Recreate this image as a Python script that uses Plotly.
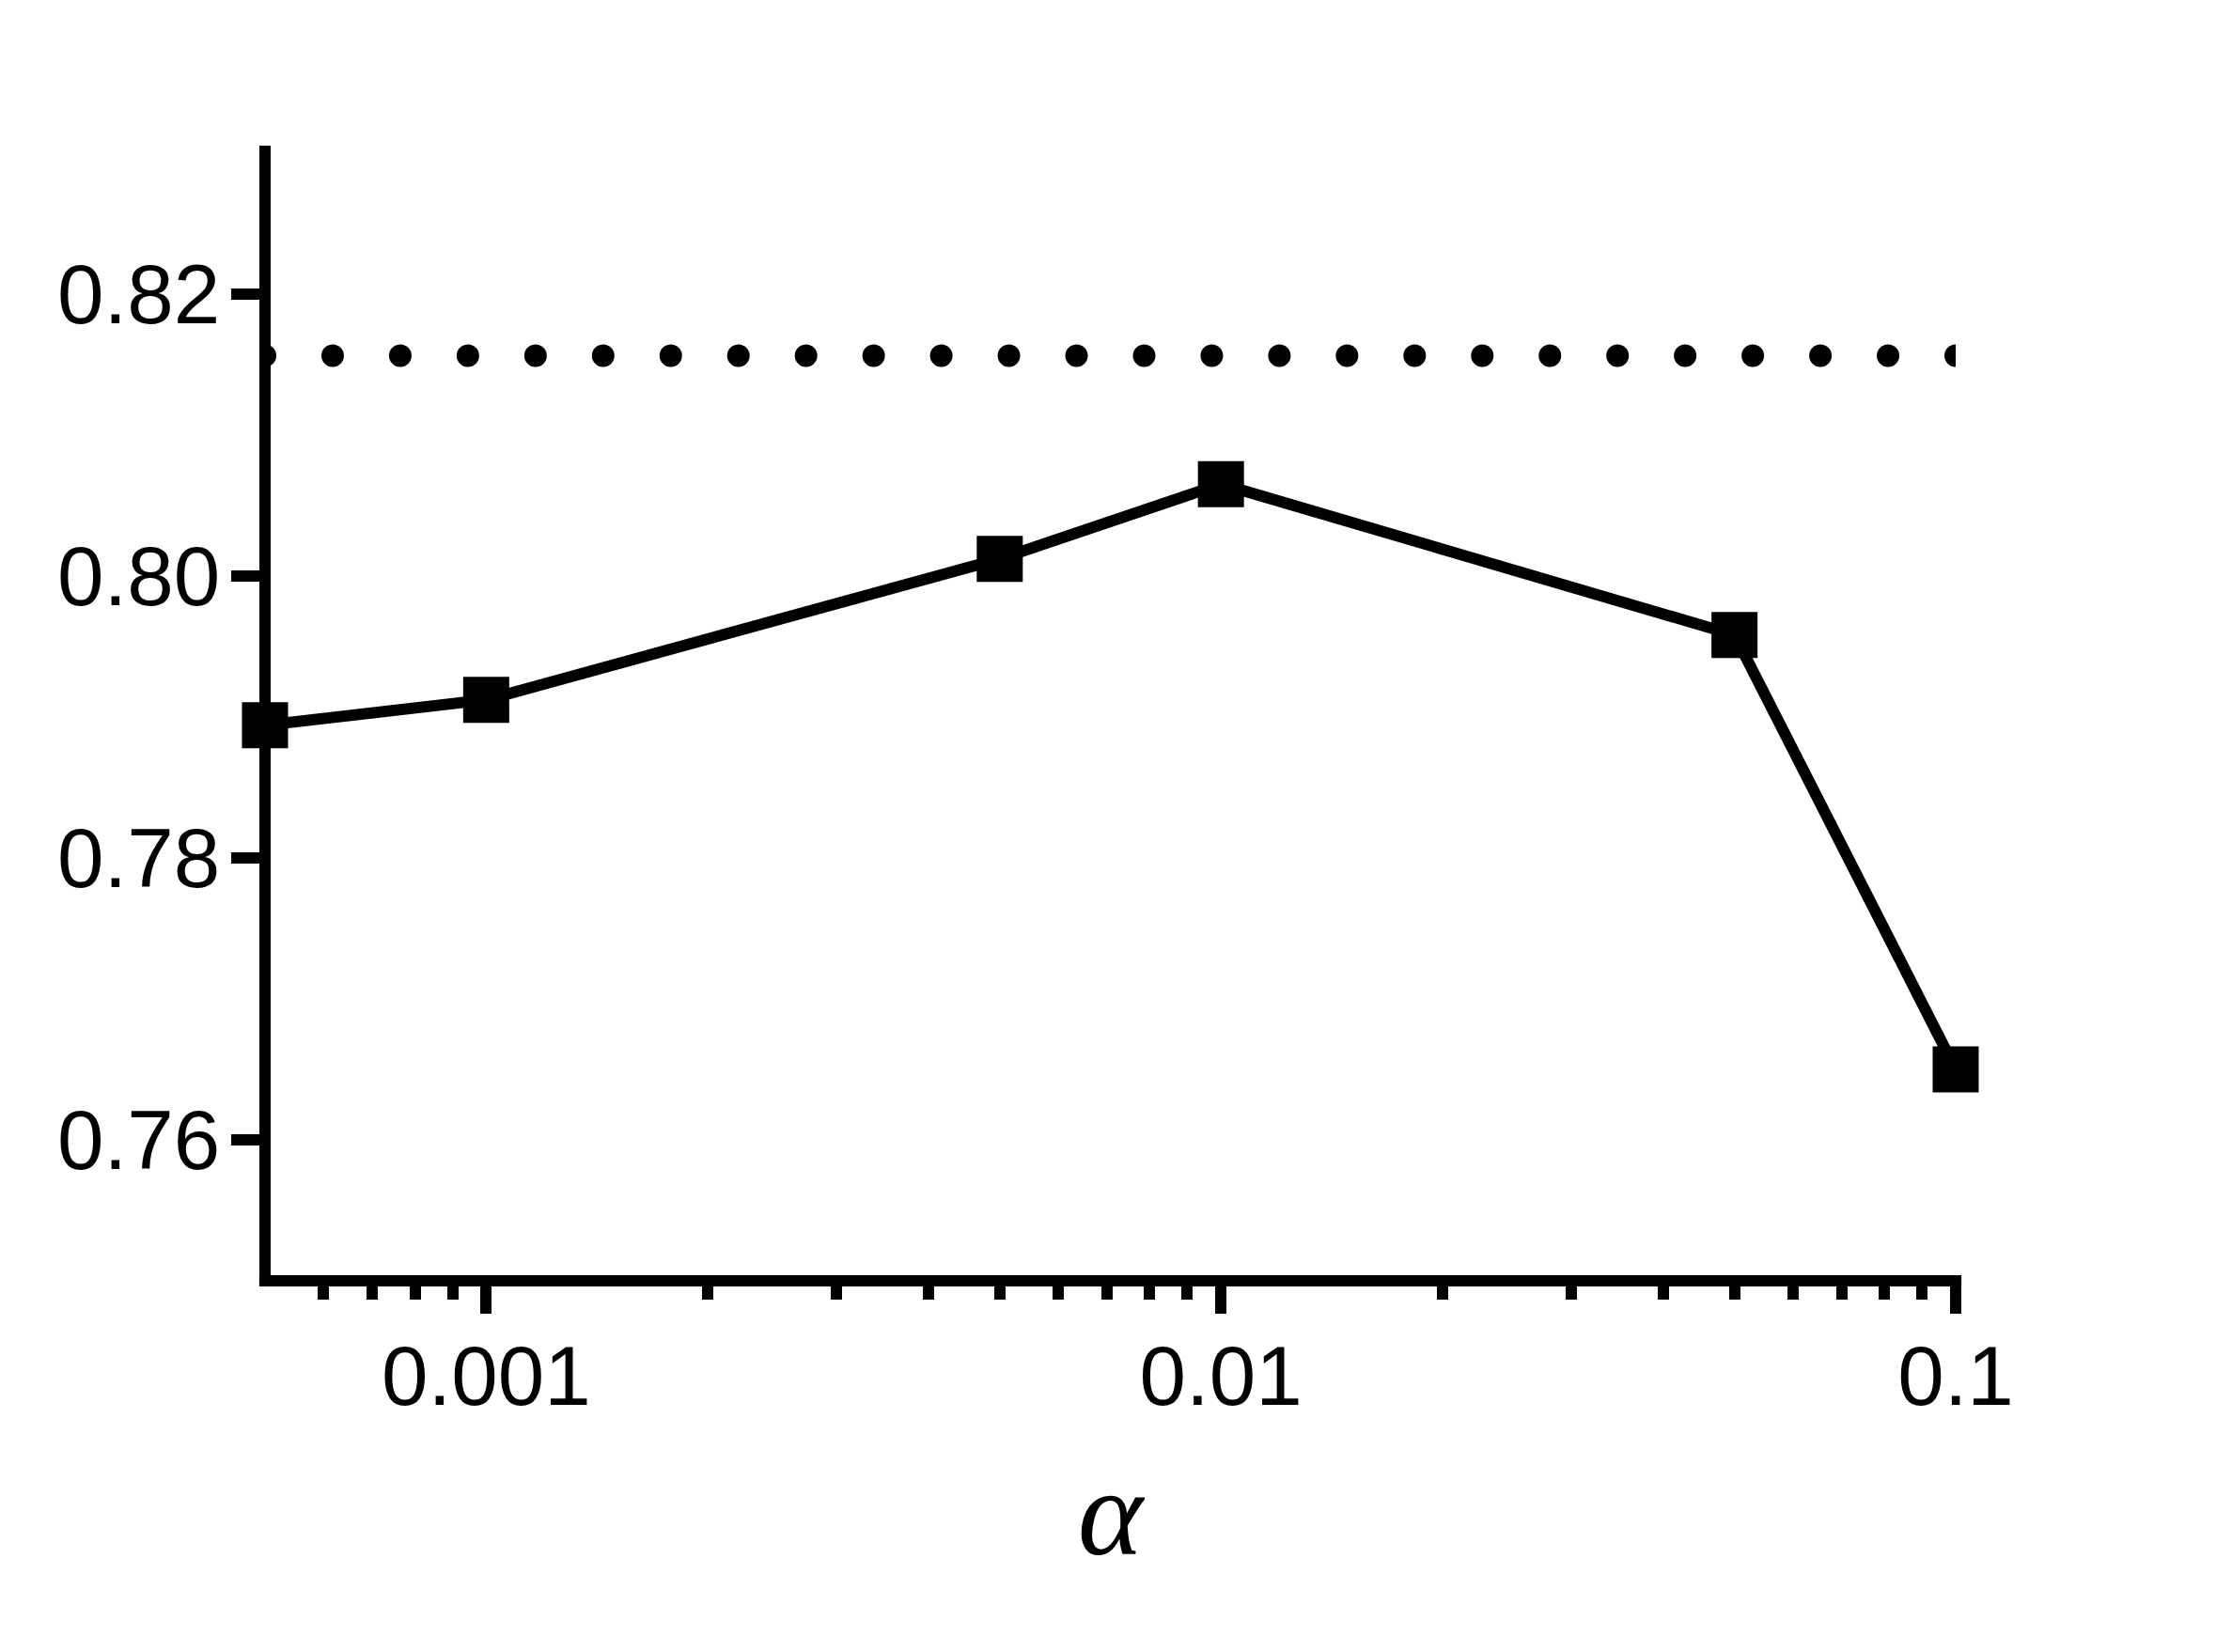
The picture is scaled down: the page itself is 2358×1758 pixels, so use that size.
import numpy as np
import plotly.graph_objects as go

# ---- data ----
alpha = [0.0005, 0.001, 0.005, 0.01, 0.05, 0.1]
score = [0.7894, 0.7912, 0.8012, 0.8065, 0.7958, 0.7650]
baseline = 0.8156

x_major_vals = [0.001, 0.01, 0.1]
x_major_text = ["0.001", "0.01", "0.1"]
x_minor_vals = [0.0006, 0.0007, 0.0008, 0.0009,
                0.002, 0.003, 0.004, 0.005, 0.006, 0.007, 0.008, 0.009,
                0.02, 0.03, 0.04, 0.05, 0.06, 0.07, 0.08, 0.09]
y_tick_vals = [0.76, 0.78, 0.80, 0.82]
x_range = [0.0005, 0.1]
y_range = [0.75, 0.8305]

# dotted reference line rendered as evenly spaced round dots (log axis)
n_dots = 26
dot_x = np.logspace(np.log10(x_range[0]), np.log10(x_range[1]), n_dots)
dot_y = [baseline] * n_dots

eps = 1e-6
fig = go.Figure()
fig.add_trace(go.Scatter(
    x=dot_x, y=dot_y, mode="markers",
    marker=dict(symbol="circle", size=24, color="black"),
    cliponaxis=True, showlegend=False, hoverinfo="skip"))
fig.add_trace(go.Scatter(
    x=alpha, y=score, mode="lines+markers",
    line=dict(color="black", width=12),
    marker=dict(symbol="square", size=49, color="black"),
    cliponaxis=False, showlegend=False))

font = dict(family="Liberation Sans, Arial, sans-serif", size=89, color="black")

# axis lines centred on the plot edges
axis_line = dict(color="black", width=12)
fig.add_shape(type="line", xref="x domain", yref="y domain",
              x0=-0.0034, x1=1.0034, y0=0, y1=0, line=axis_line, layer="above")
fig.add_shape(type="line", xref="x domain", yref="y domain",
              x0=0, x1=0, y0=-0.005, y1=1, line=axis_line, layer="above")

fig.update_layout(
    width=2350, height=1750,
    margin=dict(l=274, r=277, t=147, b=395, autoexpand=False),
    paper_bgcolor="white", plot_bgcolor="white",
    font=font,
    xaxis=dict(
        type="log",
        range=[np.log10(x_range[0]) - eps, np.log10(x_range[1]) + eps],
        showline=False, showgrid=False, zeroline=False,
        ticks="outside", ticklen=34, tickwidth=12, tickcolor="black",
        tickmode="array", tickvals=x_major_vals, ticktext=x_major_text,
        tickfont=font, ticklabelstandoff=-10,
        minor=dict(ticks="outside", ticklen=19, tickwidth=12, tickcolor="black",
                   tickmode="array", tickvals=x_minor_vals, showgrid=False),
        title=dict(text="<i>α</i>",
                   font=dict(family="Liberation Serif, Times New Roman, serif", size=132, color="black"),
                   standoff=48),
        automargin=False,
    ),
    yaxis=dict(
        range=[y_range[0] - eps, y_range[1]],
        showline=False, showgrid=False, zeroline=False,
        ticks="outside", ticklen=35, tickwidth=12, tickcolor="black",
        tickmode="array", tickvals=y_tick_vals, tickformat=".2f",
        tickfont=font, ticklabelstandoff=-6,
        automargin=False,
    ),
)

fig.write_html("out.html")
